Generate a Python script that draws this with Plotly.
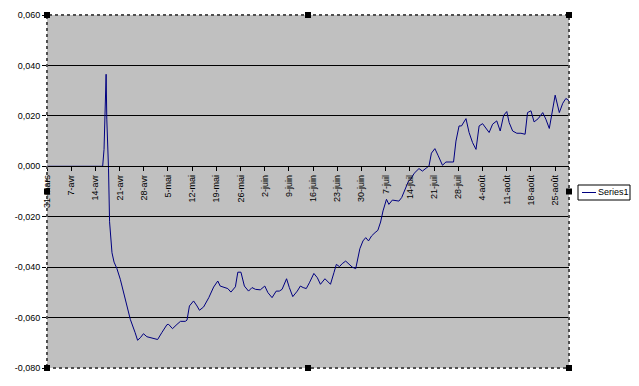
import plotly.graph_objects as go

# ---- data (day offset from 31-mars, value) ----
days = [0, 16.1, 16.5, 16.8, 17.0, 17.1, 17.3, 17.5, 17.8, 18.1, 18.5, 18.8, 19.4, 20.2, 21.2,
        22.6, 24.1, 25.5, 26.2, 27.0, 27.9, 28.9, 30.8, 32.0, 33.2, 34.7, 35.2, 36.3, 37.6,
        38.6, 40.0, 40.5, 41.2, 42.4, 43.4, 44.1, 45.3, 46.8, 48.2, 49.4, 50.1, 50.9, 52.3,
        53.2, 54.5, 55.2, 56.1, 57.1, 58.3, 59.3, 60.3, 61.7, 63.0, 63.9, 64.6, 65.1, 66.3,
        67.2, 68.0, 69.3, 70.1, 71.1, 72.4, 73.3, 74.1, 75.0, 75.9, 77.2, 78.2, 79.1, 80.4,
        81.4, 82.0, 83.0, 83.7, 84.6, 85.4, 86.4, 87.3, 88.3, 89.3, 89.8, 90.5, 91.4, 92.2,
        93.0, 93.9, 94.9, 95.7, 96.5, 97.2, 98.2, 98.9, 99.9, 101.1, 101.8, 102.6, 103.3,
        103.8, 104.6, 105.2, 106.2, 107.6, 108.6, 109.9, 110.5, 111.2, 112.2, 113.1, 114.4,
        115.4, 117.6, 118.3, 119.2, 119.9, 121.2, 122.1, 123.1, 124.1, 125.0, 126.0, 127.0,
        127.9, 128.9, 130.1, 131.1, 132.1, 133.0, 133.7, 134.7, 135.9, 137.1, 138.3, 139.0,
        140.0, 140.9, 142.1, 143.4, 144.3, 145.3, 146.3, 147.0, 148.2, 149.2, 150.1, 151.0]
values = [0, 0, 0.0067, 0.018, 0.030, 0.0365, 0.0187, 0.0107, -0.001, -0.022, -0.032, -0.0343,
          -0.038, -0.0405, -0.0448, -0.0528, -0.0607, -0.066, -0.069, -0.068, -0.0664, -0.0676,
          -0.0683, -0.0687, -0.066, -0.0628, -0.0627, -0.0644, -0.0627, -0.0615, -0.0615, -0.061,
          -0.0554, -0.0534, -0.0554, -0.0571, -0.0558, -0.0521, -0.0479, -0.0455, -0.0475,
          -0.0479, -0.0485, -0.0499, -0.0478, -0.042, -0.042, -0.0475, -0.0495, -0.0481,
          -0.0488, -0.049, -0.0475, -0.0501, -0.0512, -0.0521, -0.0495, -0.0495, -0.0488,
          -0.0446, -0.0481, -0.0517, -0.0495, -0.0475, -0.0481, -0.0485, -0.0462, -0.0425,
          -0.0442, -0.0468, -0.0446, -0.0459, -0.0468, -0.0422, -0.0389, -0.0398, -0.0386,
          -0.0376, -0.0389, -0.04, -0.0406, -0.0369, -0.0327, -0.0296, -0.0283, -0.0296,
          -0.0276, -0.0263, -0.0254, -0.0221, -0.0177, -0.0131, -0.0151, -0.0134, -0.0138,
          -0.0138, -0.0124, -0.0098, -0.0085, -0.0058, -0.0052, -0.0028, -0.0009, -0.0019,
          -0.0005, 0.0001, 0.0052, 0.007, 0.0044, 0.0004, 0.0017, 0.0017, 0.010, 0.016, 0.016,
          0.0189, 0.0134, 0.0094, 0.0067, 0.016, 0.0169, 0.015, 0.0134, 0.0167, 0.018, 0.014,
          0.0202, 0.0217, 0.0173, 0.014, 0.0131, 0.0131, 0.0127, 0.0213, 0.022, 0.0176, 0.0189,
          0.0213, 0.0187, 0.015, 0.0226, 0.0282, 0.0213, 0.025, 0.0269, 0.026]

x_tickvals = [0, 7, 14, 21, 28, 35, 42, 49, 56, 63, 70, 77, 84, 91, 98, 105, 112, 119, 126, 133, 140, 147]
x_ticktext = ["31-mars", "7-avr", "14-avr", "21-avr", "28-avr", "5-mai", "12-mai", "19-mai",
              "26-mai", "2-juin", "9-juin", "16-juin", "23-juin", "30-juin", "7-juil", "14-juil",
              "21-juil", "28-juil", "4-août", "11-août", "18-août", "25-août"]
y_tickvals = [-0.08, -0.06, -0.04, -0.02, 0.0, 0.02, 0.04, 0.06]
y_ticktext = ["-0,080", "-0,060", "-0,040", "-0,020", "0,000", "0,020", "0,040", "0,060"]
series_name = "Series1"

# page geometry (the page body adds an 8px offset)
OFF = 8
PAGE_W, PAGE_H = 639, 386
L, R, T, B = 47, 569, 15, 368          # plot area in page pixels
PW, PH = R - L, B - T
W, H = PAGE_W - OFF, PAGE_H - OFF

def px(xp):
    return (xp - L) / PW

def py(yp):
    return (B - yp) / PH

fig = go.Figure()
fig.add_trace(go.Scatter(x=days, y=values, mode="lines", name=series_name,
                         line=dict(color="#000080", width=1), showlegend=False))

font = dict(family="Liberation Sans, Arial, sans-serif", size=9, color="#000000")

shapes = []
# plot area border (dotted selection border)
shapes.append(dict(type="rect", xref="paper", yref="paper", x0=0, x1=1, y0=0, y1=1,
                   line=dict(color="#505050", width=2, dash="dot"), layer="above"))
# selection handles
for hx, hy in [(L, T), ((L + R) / 2, T), (R, T), (L, (T + B) / 2), (R, (T + B) / 2),
               (L, B), ((L + R) / 2, B), (R, B)]:
    shapes.append(dict(type="rect", xref="paper", yref="paper",
                       x0=px(hx - 3), x1=px(hx + 3), y0=py(hy + 3), y1=py(hy - 3),
                       fillcolor="#000000", line=dict(width=0), layer="above"))
# legend box
shapes.append(dict(type="rect", xref="paper", yref="paper",
                   x0=px(578), x1=px(630), y0=py(200), y1=py(185),
                   fillcolor="#FFFFFF", line=dict(color="#000000", width=1)))
shapes.append(dict(type="line", xref="paper", yref="paper",
                   x0=px(582), x1=px(596), y0=py(192.5), y1=py(192.5),
                   line=dict(color="#000080", width=1)))

fig.update_layout(
    width=W, height=H,
    margin=dict(l=L - OFF, r=W - (R - OFF), t=T - OFF, b=H - (B - OFF), autoexpand=False),
    paper_bgcolor="#FFFFFF",
    plot_bgcolor="#C0C0C0",
    font=font,
    showlegend=False,
    shapes=shapes,
    annotations=[dict(xref="paper", yref="paper", x=px(598), y=py(192.5),
                      text=series_name, showarrow=False, xanchor="left", yanchor="middle",
                      xshift=-1, borderpad=0,
                      font=dict(family="Liberation Sans, Arial, sans-serif", size=9, color="#000000"))],
    xaxis=dict(range=[0, 151], tickvals=x_tickvals, ticktext=x_ticktext, tickangle=-90,
               anchor="free", position=(0 - (-0.08)) / 0.14,
               showgrid=False, zeroline=False, showline=True, linecolor="#000000", linewidth=1,
               ticks="outside", ticklen=4, tickcolor="#000000", tickfont=font),
    yaxis=dict(range=[-0.08, 0.06], tickvals=y_tickvals, ticktext=y_ticktext,
               showgrid=True, gridcolor="#000000", gridwidth=1,
               zeroline=True, zerolinecolor="#000000", zerolinewidth=1,
               showline=False, ticks="outside", ticklen=4, tickcolor="#000000", tickfont=font),
)

fig.write_html("out.html")
